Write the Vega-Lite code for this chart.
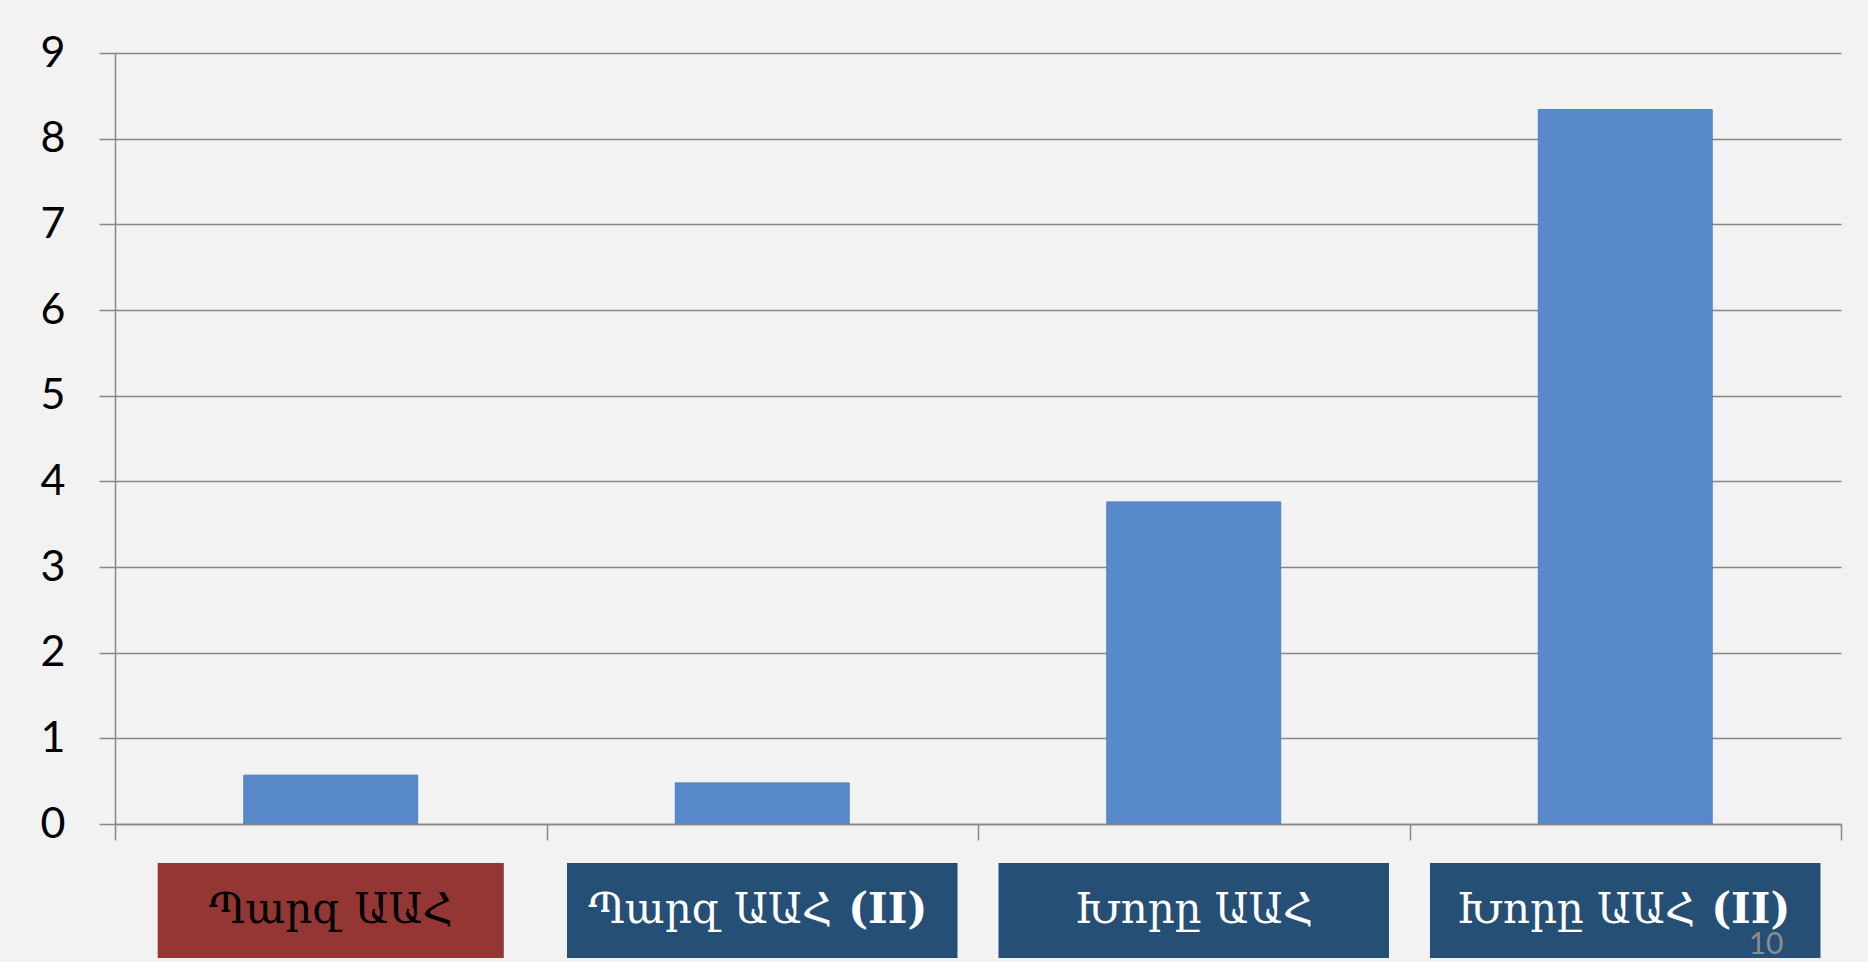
{
  "$schema": "https://vega.github.io/schema/vega-lite/v6.json",
  "autosize": {"type": "none"},
  "padding": {"left": 115, "top": 53, "right": 27, "bottom": 138},
  "width": 1726,
  "height": 771,
  "background": "#f2f2f2",
  "config": {"view": {"stroke": null}},
  "data": {
    "values": [
      {"cat": "Պարզ ԱԱՀ", "value": 0.57, "main": "Պարզ ԱԱՀ", "suffix": "", "box": "red"},
      {"cat": "Պարզ ԱԱՀ (II)", "value": 0.48, "main": "Պարզ ԱԱՀ", "suffix": "(II)", "box": "blue"},
      {"cat": "Խորը ԱԱՀ", "value": 3.76, "main": "Խորը ԱԱՀ", "suffix": "", "box": "blue"},
      {"cat": "Խորը ԱԱՀ (II)", "value": 8.34, "main": "Խորը ԱԱՀ", "suffix": "(II)", "box": "blue"}
    ]
  },
  "encoding": {
    "x": {
      "field": "cat", "type": "nominal", "sort": null,
      "scale": {"type": "band", "paddingInner": 0, "paddingOuter": 0},
      "axis": {
        "labels": false, "title": "10", "tickBand": "extent", "tickSize": 16, "zindex": 1,
        "tickColor": "#878787", "tickWidth": 1.5, "domainColor": "#878787", "domainWidth": 1.5,
        "titleFont": "Lato", "titleFontSize": 30, "titleFontWeight": "normal", "titleColor": "#8c8c8c",
        "titleAlign": "right", "titleBaseline": "bottom", "titleX": 1668, "titleY": 135, "titleAnchor": null
      }
    }
  },
  "layer": [
    {
      "mark": {"type": "bar", "width": {"band": 0.403}, "color": "#588ACB", "stroke": "#4f7fbd", "strokeWidth": 1},
      "encoding": {
        "y": {
          "field": "value", "type": "quantitative",
          "scale": {"domain": [0, 9], "nice": false, "zero": true},
          "axis": {
            "title": null, "values": [0,1,2,3,4,5,6,7,8,9], "format": "d", "grid": true, "gridColor": "#878787", "gridWidth": 1.5,
            "tickSize": 16, "tickColor": "#878787", "tickWidth": 1.5, "domainColor": "#878787", "domainWidth": 1.5,
            "labelFont": "Lato", "labelFontSize": 43, "labelColor": "#000000", "labelPadding": 34
          }
        }
      }
    },
    {
      "transform": [{"filter": "datum.box == 'red'"}],
      "mark": {"type": "bar", "width": {"band": 0.802}, "color": "#943634"},
      "encoding": {"y": {"datum": -0.455}, "y2": {"datum": -1.564}}
    },
    {
      "transform": [{"filter": "datum.box == 'blue'"}],
      "mark": {"type": "bar", "width": {"band": 0.905}, "color": "#264F76"},
      "encoding": {"y": {"datum": -0.455}, "y2": {"datum": -1.564}}
    },
    {
      "transform": [{"filter": "datum.suffix == ''"}],
      "mark": {"type": "text", "font": "DejaVu Serif", "fontSize": 42, "baseline": "middle", "align": "center"},
      "encoding": {
        "y": {"datum": -1.0},
        "text": {"field": "main"},
        "color": {"condition": {"test": "datum.box == 'red'", "value": "#000000"}, "value": "#ffffff"}
      }
    },
    {
      "transform": [{"filter": "datum.suffix != ''"}],
      "mark": {"type": "text", "font": "DejaVu Serif", "fontSize": 42, "baseline": "middle", "align": "right", "dx": 70, "color": "#ffffff"},
      "encoding": {"y": {"datum": -1.0}, "text": {"field": "main"}}
    },
    {
      "transform": [{"filter": "datum.suffix != ''"}],
      "mark": {"type": "text", "font": "DejaVu Serif", "fontSize": 42, "fontWeight": "bold", "baseline": "middle", "align": "left", "dx": 86, "color": "#ffffff"},
      "encoding": {"y": {"datum": -1.0}, "text": {"field": "suffix"}}
    }
  ]
}
